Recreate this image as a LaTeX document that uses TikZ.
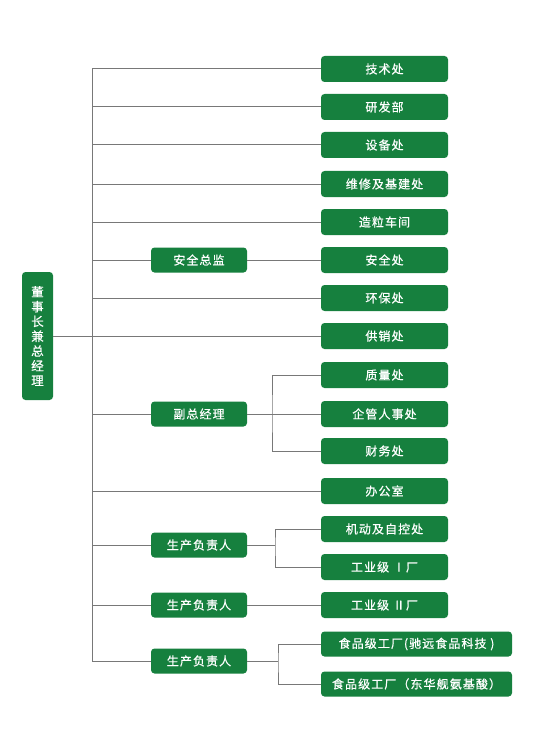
\documentclass[tikz,border=0pt]{standalone}
\usepackage{fontspec}
\newfontfamily\cjk[LetterSpace=9,FakeBold=0.6]{Noto Sans CJK SC}
\definecolor{boxgreen}{RGB}{22,128,62}
\definecolor{linegray}{RGB}{120,120,120}
\begin{document}
\begin{tikzpicture}[x=1pt,y=-1pt,
  gbox/.style={fill=boxgreen,rounded corners=3.5pt,text=white,inner sep=0pt,
    font=\cjk\fontsize{12}{14}\selectfont},
  rbox/.style={gbox,minimum width=127,minimum height=26},
  wbox/.style={gbox,minimum width=191,minimum height=25},
  mbox/.style={gbox,minimum width=96,minimum height=25},
  conn/.style={draw=linegray,line width=1pt}]
\useasboundingbox (0,0) rectangle (536,746);

% left root
\node[gbox,minimum width=31,minimum height=128,align=center,
  font=\cjk\fontsize{12.5}{14.8}\selectfont] (root) at (37.5,336) {董\\事\\长\\兼\\总\\经\\理};

% right boxes
\node[rbox] (jsc) at (384.5,69) {技术处};
\node[rbox] (yfb) at (384.5,107) {研发部};
\node[rbox] (sbc) at (384.5,145) {设备处};
\node[rbox] (wx) at (384.5,184) {维修及基建处};
\node[rbox] (zl) at (384.5,222) {造粒车间};
\node[rbox] (aqc) at (384.5,260) {安全处};
\node[rbox] (hb) at (384.5,298) {环保处};
\node[rbox] (gx) at (384.5,336) {供销处};
\node[rbox] (zlc) at (384.5,375) {质量处};
\node[rbox] (qg) at (384.5,414) {企管人事处};
\node[rbox] (cw) at (384.5,451) {财务处};
\node[rbox] (bgs) at (384.5,491) {办公室};
\node[rbox] (jd) at (384.5,529) {机动及自控处};
\node[rbox] (gy1) at (384.5,567) {工业级 Ⅰ厂};
\node[rbox] (gy2) at (384.5,605) {工业级 Ⅱ厂};
\node[wbox] (sp1) at (416.5,644) {食品级工厂(驰远食品科技 )};
\node[wbox] (sp2) at (416.5,684) {食品级工厂（东华舰氨基酸）};

% middle boxes
\node[mbox] (aqzj) at (199,260) {安全总监};
\node[mbox] (fz) at (199,414) {副总经理};
\node[mbox] (sc1) at (199,545) {生产负责人};
\node[mbox] (sc2) at (199,605) {生产负责人};
\node[mbox] (sc3) at (199,661) {生产负责人};

% trunk
\coordinate (t0) at (92,69);
\coordinate (t1) at (92,661);
\draw[conn] (t0) -- (t1);
\draw[conn] (root.east) -- (root.east -| t0);

\foreach \n in {jsc,yfb,sbc,wx,zl,hb,gx,bgs}
  \draw[conn] (\n.west -| t0) -- (\n.west);

\foreach \n in {aqzj,fz,sc1,sc2,sc3}
  \draw[conn] (\n.west -| t0) -- (\n.west);

\draw[conn] (aqzj.east) -- (aqc.west);
\draw[conn] (sc2.east) -- (gy2.west);

% branch of 副总经理
\coordinate (b1) at (272,414);
\draw[conn] (fz.east) -- (b1);
\draw[conn] (zlc.west) -| (b1) |- (cw.west);
\draw[conn] (b1) -- (qg.west);

% branch of 生产负责人 1
\coordinate (b2) at (275,545);
\draw[conn] (sc1.east) -- (b2);
\draw[conn] (jd.west) -| (b2) |- (gy1.west);

% branch of 生产负责人 3
\coordinate (b3) at (278,661);
\draw[conn] (sc3.east) -- (b3);
\draw[conn] (sp1.west) -| (b3) |- (sp2.west);
\end{tikzpicture}
\end{document}
